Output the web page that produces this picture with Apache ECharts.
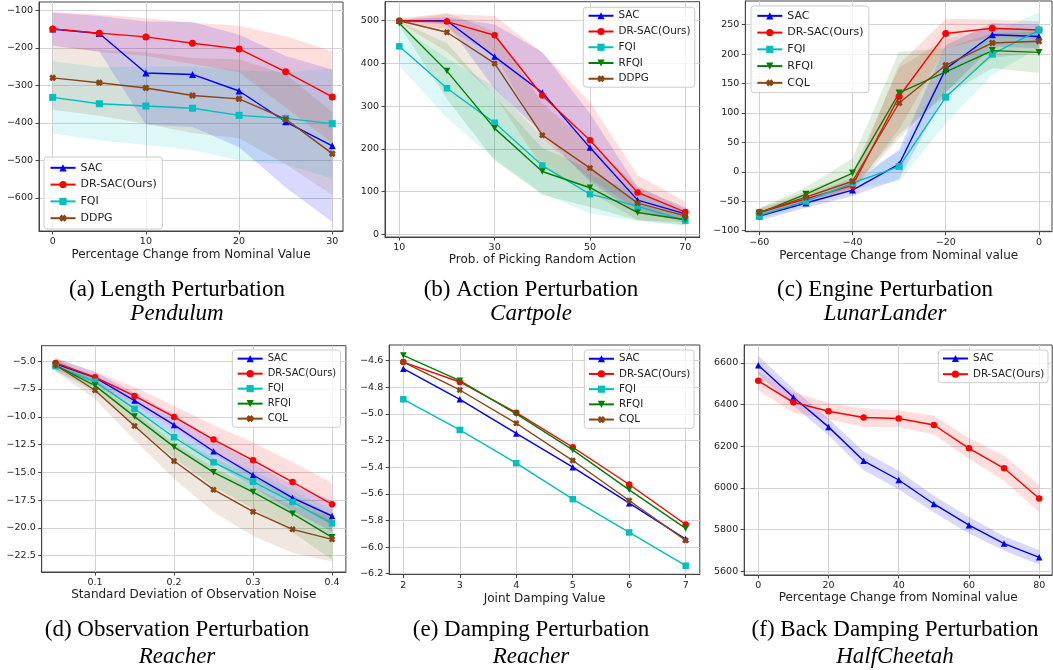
<!DOCTYPE html>
<html><head><meta charset="utf-8">
<script src="https://cdn.jsdelivr.net/npm/echarts@6/dist/echarts.min.js"></script>
<style>html,body{margin:0;padding:0;background:#fff}#c{width:1053px;height:670px}</style>
</head><body><div id="c"></div>
<script>
// ---------- (a) Length Perturbation, Pendulum ----------
const aX = [0, 5, 10, 15, 20, 25, 30];
const aSAC = [-150, -162, -267, -271, -315, -397, -461];
const aSACstd = [44, 47, 137, 140, 150, 175, 203];
const aDR = [-150, -161, -171, -188, -203, -264, -331];
const aDRstd = [45, 50, 50, 55, 62, 95, 122];
const aFQI = [-332, -349, -355, -361, -380, -388, -402];
const aFQIstd = [96, 97, 104, 111, 120, 122, 146];
const aDDPG = [-280, -293, -307, -327, -336, -390, -482];
const aDDPGstd = [85, 88, 95, 100, 105, 120, 110];
const aXTicks = [0, 10, 20, 30];
const aYTicks = [-600, -500, -400, -300, -200, -100];

// ---------- (b) Action Perturbation, Cartpole ----------
const bX = [10, 20, 30, 40, 50, 60, 70];
const bSAC = [500, 500, 416, 332, 203, 80, 48];
const bSACstd = [3, 8, 75, 95, 80, 30, 15];
const bDR = [500, 498, 466, 325, 220, 98, 52];
const bDRstd = [3, 18, 45, 100, 90, 40, 25];
const bFQI = [440, 342, 261, 161, 94, 66, 32];
const bFQIstd = [45, 70, 85, 65, 45, 35, 12];
const bRFQI = [494, 382, 248, 147, 109, 51, 34];
const bRFQIstd = [5, 65, 75, 55, 45, 18, 12];
const bDDPG = [500, 473, 400, 232, 155, 73, 43];
const bDDPGstd = [5, 45, 75, 75, 55, 40, 15];
const bXTicks = [10, 30, 50, 70];
const bYTicks = [0, 100, 200, 300, 400, 500];

// ---------- (c) Engine Perturbation, LunarLander ----------
const cX = [-60, -50, -40, -30, -20, -10, 0];
const cSAC = [-75, -53, -31, 13, 175, 233, 230];
const cSACstd = [8, 8, 10, 25, 40, 20, 20];
const cDR = [-69, -46, -23, 128, 235, 244, 241];
const cDRstd = [6, 8, 10, 55, 25, 15, 15];
const cFQI = [-74, -50, -19, 9, 127, 200, 241];
const cFQIstd = [6, 7, 10, 25, 45, 35, 30];
const cRFQI = [-70, -38, -2, 134, 170, 206, 203];
const cRFQIstd = [8, 12, 25, 70, 40, 30, 35];
const cCQL = [-69, -43, -16, 117, 181, 219, 222];
const cCQLstd = [7, 10, 15, 60, 45, 25, 20];
const cXTicks = [-60, -40, -20, 0];
const cYTicks = [-100, -50, 0, 50, 100, 150, 200, 250];

// ---------- (d) Observation Perturbation, Reacher ----------
const dX = [0.05, 0.1, 0.15, 0.2, 0.25, 0.3, 0.35, 0.4];
const dSAC = [-5.24, -6.47, -8.54, -10.73, -13.1, -15.24, -17.3, -18.93];
const dSACstd = [0.5, 0.5, 0.7, 0.9, 1.0, 1.1, 1.2, 1.4];
const dDR = [-5.15, -6.44, -8.12, -10.01, -12.05, -13.92, -15.87, -17.88];
const dDRstd = [0.4, 0.5, 0.8, 1.0, 1.3, 1.6, 1.8, 1.9];
const dFQI = [-5.45, -6.83, -9.29, -11.84, -14.1, -15.84, -17.67, -19.59];
const dFQIstd = [0.5, 0.5, 0.7, 0.8, 0.9, 1.0, 1.1, 1.2];
const dRFQI = [-5.36, -7.19, -9.98, -12.71, -15.0, -16.77, -18.72, -20.85];
const dRFQIstd = [0.5, 0.6, 0.8, 1.0, 1.3, 1.5, 1.7, 2.0];
const dCQL = [-5.33, -7.61, -10.82, -13.98, -16.56, -18.54, -20.13, -21.03];
const dCQLstd = [0.6, 0.8, 1.3, 1.6, 2.0, 2.2, 2.1, 2.0];
const dXTicks = [0.1, 0.2, 0.3, 0.4];
const dYTicks = [-22.5, -20, -17.5, -15, -12.5, -10, -7.5, -5];

// ---------- (e) Damping Perturbation, Reacher ----------
const eX = [2, 3, 4, 5, 6, 7];
const eSAC = [-4.66, -4.89, -5.146, -5.40, -5.67, -5.94];
const eDR = [-4.61, -4.76, -4.99, -5.25, -5.53, -5.83];
const eFQI = [-4.89, -5.12, -5.37, -5.64, -5.89, -6.14];
const eRFQI = [-4.56, -4.75, -5.0, -5.27, -5.57, -5.86];
const eCQL = [-4.61, -4.82, -5.07, -5.35, -5.65, -5.95];
const eXTicks = [2, 3, 4, 5, 6, 7];
const eYTicks = [-6.2, -6.0, -5.8, -5.6, -5.4, -5.2, -5.0, -4.8, -4.6];

// ---------- (f) Back Damping Perturbation, HalfCheetah ----------
const fX = [0, 10, 20, 30, 40, 50, 60, 70, 80];
const fSAC = [6589, 6435, 6293, 6130, 6038, 5923, 5821, 5733, 5667];
const fSACstd = [45, 40, 40, 45, 45, 40, 40, 35, 35];
const fDR = [6514, 6411, 6368, 6338, 6333, 6302, 6190, 6094, 5949];
const fDRstd = [45, 50, 40, 45, 40, 45, 50, 60, 65];
const fXTicks = [0, 20, 40, 60, 80];
const fYTicks = [5600, 5800, 6000, 6200, 6400, 6600];

// ---------- captions ----------
const captions = [
  ['(a) Length Perturbation', 'Pendulum'],
  ['(b) Action Perturbation', 'Cartpole'],
  ['(c) Engine Perturbation', 'LunarLander'],
  ['(d) Observation Perturbation', 'Reacher'],
  ['(e) Damping Perturbation', 'Reacher'],
  ['(f) Back Damping Perturbation', 'HalfCheetah']
];

// ---------- styles ----------
const FONT = 'DejaVu Sans';
const XPATH = 'path://M3,0L5,2L7,0L10,3L8,5L10,7L7,10L5,8L3,10L0,7L2,5L0,3Z';
const STY = {
  'SAC': { color: '#0000ff', band: 'rgba(0,0,255,0.15)', symbol: 'triangle' },
  'DR-SAC(Ours)': { color: '#ff0000', band: 'rgba(255,0,0,0.13)', symbol: 'circle' },
  'FQI': { color: '#00bfbf', band: 'rgba(0,191,191,0.13)', symbol: 'rect' },
  'RFQI': { color: '#008000', band: 'rgba(0,128,0,0.13)', symbol: 'path://M0,0L10,0L5,9Z' },
  'DDPG': { color: '#8b4513', band: 'rgba(139,69,19,0.13)', symbol: XPATH },
  'CQL': { color: '#8b4513', band: 'rgba(139,69,19,0.13)', symbol: XPATH }
};
const fmt = d => v => (d == null ? String(v) : v.toFixed(d)).replace('-', '\u2212');

const panels = [
  { key: 'a', x: aX, grid: { left: 39, top: 2, width: 304, height: 229 }, xr: [-1.47, 31.15], yr: [-688, -78],
    xTicks: aXTicks, yTicks: aYTicks, xF: fmt(null), yF: fmt(null), xName: 'Percentage Change from Nominal Value', nameGap: 18,
    series: [['SAC', aSAC, aSACstd], ['DR-SAC(Ours)', aDR, aDRstd], ['FQI', aFQI, aFQIstd], ['DDPG', aDDPG, aDDPGstd]],
    legend: { left: 44, top: 157, fontSize: 11, lineHeight: 12, itemGap: 4.8, padding: [4.8, 5.5] }, sym: 7 },
  { key: 'b', x: bX, grid: { left: 385, top: 1.7, width: 314.6, height: 235.3 }, xr: [7, 73], yr: [-6.3, 544.5],
    xTicks: bXTicks, yTicks: bYTicks, xF: fmt(null), yF: fmt(null), xName: 'Prob. of Picking Random Action', nameGap: 16,
    series: [['SAC', bSAC, bSACstd], ['DR-SAC(Ours)', bDR, bDRstd], ['FQI', bFQI, bFQIstd], ['RFQI', bRFQI, bRFQIstd], ['DDPG', bDDPG, bDDPGstd]],
    legend: { left: 583.3, top: 7.3, fontSize: 10.4, lineHeight: 11.5, itemGap: 4.25, padding: [2.7, 4.2] }, sym: 6.5 },
  { key: 'c', x: cX, grid: { left: 745.3, top: 1, width: 306.7, height: 230.7 }, xr: [-63, 2.8], yr: [-101.7, 290.3],
    xTicks: cXTicks, yTicks: cYTicks, xF: fmt(null), yF: fmt(null), xName: 'Percentage Change from Nominal value', nameGap: 18,
    series: [['SAC', cSAC, cSACstd], ['DR-SAC(Ours)', cDR, cDRstd], ['FQI', cFQI, cFQIstd], ['RFQI', cRFQI, cRFQIstd], ['CQL', cCQL, cCQLstd]],
    legend: { left: 751, top: 6, fontSize: 11, lineHeight: 12, itemGap: 4.75, padding: [3.85, 5.3] }, sym: 7 },
  { key: 'd', x: dX, grid: { left: 41.7, top: 345.7, width: 304.2, height: 226.3 }, xr: [0.0325, 0.4175], yr: [-23.97, -3.6],
    xTicks: dXTicks, yTicks: dYTicks, xF: fmt(1), yF: fmt(1), xName: 'Standard Deviation of Observation Noise', nameGap: 17,
    series: [['SAC', dSAC, dSACstd], ['DR-SAC(Ours)', dDR, dDRstd], ['FQI', dFQI, dFQIstd], ['RFQI', dRFQI, dRFQIstd], ['CQL', dCQL, dCQLstd]],
    legend: { left: 232.3, top: 350, fontSize: 9.9, lineHeight: 11, itemGap: 4, padding: [3.15, 4.35] }, sym: 6.5 },
  { key: 'e', x: eX, grid: { left: 389.2, top: 345, width: 310.6, height: 229.5 }, xr: [1.75, 7.25], yr: [-6.206, -4.482],
    xTicks: eXTicks, yTicks: eYTicks, xF: fmt(null), yF: fmt(1), xName: 'Joint Damping Value', nameGap: 18,
    series: [['SAC', eSAC], ['DR-SAC(Ours)', eDR], ['FQI', eFQI], ['RFQI', eRFQI], ['CQL', eCQL]],
    legend: { left: 584.3, top: 350, fontSize: 10.3, lineHeight: 11.3, itemGap: 3.9, padding: [3.1, 3.65] }, sym: 6.5 },
  { key: 'f', x: fX, grid: { left: 744.2, top: 345, width: 308, height: 230 }, xr: [-4, 83.7], yr: [5582, 6686],
    xTicks: fXTicks, yTicks: fYTicks, xF: fmt(null), yF: fmt(null), xName: 'Percentage Change from Nominal value', nameGap: 17,
    series: [['SAC', fSAC, fSACstd], ['DR-SAC(Ours)', fDR, fDRstd]],
    legend: { left: 938.3, top: 350, fontSize: 10.3, lineHeight: 11.3, itemGap: 4.4, padding: [2.85, 3.65] }, sym: 6.5 }
];

const capPos = [
  { x: 177, y1: 290, y2: 314 }, { x: 531, y1: 290, y2: 314 }, { x: 885, y1: 290, y2: 314 },
  { x: 177, y1: 630, y2: 657 }, { x: 531, y1: 630, y2: 657 }, { x: 895, y1: 630, y2: 657 }
];

const grids = [], xAxes = [], yAxes = [], legends = [], series = [];
const axisCommon = (ticks, f) => ({
  axisLine: { show: true, onZero: false, lineStyle: { color: '#444', width: 1 } },
  axisTick: { show: true, customValues: ticks, length: 3.5, lineStyle: { color: '#444', width: 1 } },
  axisLabel: { customValues: ticks, formatter: f, fontSize: 9.5, color: '#222', fontFamily: FONT, margin: 6 },
  splitLine: { show: true, lineStyle: { color: '#d3d3d3', width: 1 } }
});

panels.forEach((p, gi) => {
  grids.push(Object.assign({ show: true, borderColor: '#444', borderWidth: 1, containLabel: false }, p.grid));
  xAxes.push(Object.assign({ type: 'value', gridIndex: gi, min: p.xr[0], max: p.xr[1],
    name: p.xName, nameLocation: 'middle', nameGap: p.nameGap,
    nameTextStyle: { fontSize: 12, fontFamily: FONT, color: '#222' } }, axisCommon(p.xTicks, p.xF)));
  yAxes.push(Object.assign({ type: 'value', gridIndex: gi, min: p.yr[0], max: p.yr[1] }, axisCommon(p.yTicks, p.yF)));

  // shaded std bands (polygon through the axis scales)
  p.series.forEach(([name, y, std]) => {
    if (!std) return;
    const st = STY[name];
    series.push({ type: 'custom', name: 'band_' + p.key + '_' + name, xAxisIndex: gi, yAxisIndex: gi,
      silent: true, z: 1, clip: true,
      data: p.x.map((v, i) => [v, y[i] - std[i], y[i] + std[i]]),
      encode: { x: 0, y: [1, 2] },
      renderItem: (params, api) => {
        if (params.dataIndex !== 0) return null;
        const up = [], lo = [];
        for (let i = 0; i < p.x.length; i++) {
          up.push(api.coord([p.x[i], y[i] + std[i]]));
          lo.push(api.coord([p.x[i], y[i] - std[i]]));
        }
        return { type: 'polygon', shape: { points: up.concat(lo.reverse()) }, style: { fill: st.band } };
      }
    });
  });
  // mean lines
  p.series.forEach(([name, y]) => {
    const st = STY[name];
    series.push({ type: 'line', name, xAxisIndex: gi, yAxisIndex: gi,
      data: p.x.map((v, i) => [v, y[i]]), symbol: st.symbol, symbolSize: p.sym, showAllSymbol: true,
      lineStyle: { color: st.color, width: 1.4 }, itemStyle: { color: st.color, borderWidth: 0 }, z: 3 });
  });
  legends.push({
    orient: 'vertical', align: 'left', left: p.legend.left, top: p.legend.top,
    data: p.series.map(s => s[0]), itemWidth: 25, itemHeight: 9, itemGap: p.legend.itemGap,
    padding: p.legend.padding, backgroundColor: 'rgba(255,255,255,0.8)', borderColor: '#cccccc',
    borderWidth: 1, borderRadius: 3, selectedMode: false, z: 10,
    textStyle: { fontSize: p.legend.fontSize, lineHeight: p.legend.lineHeight, fontFamily: FONT, color: '#222' }
  });
});

const graphics = [];
captions.forEach((c, i) => {
  const cp = capPos[i];
  graphics.push({ type: 'text', x: cp.x, y: cp.y1, style: { text: c[0], fill: '#000',
    font: '23px "Liberation Serif"', align: 'center', verticalAlign: 'middle', textAlign: 'center', textVerticalAlign: 'middle' } });
  graphics.push({ type: 'text', x: cp.x, y: cp.y2, style: { text: c[1], fill: '#000',
    font: 'italic 23px "Liberation Serif"', align: 'center', verticalAlign: 'middle', textAlign: 'center', textVerticalAlign: 'middle' } });
});

const chart = echarts.init(document.getElementById('c'), null, { renderer: 'canvas' });
chart.setOption({
  animation: false,
  backgroundColor: '#fff',
  grid: grids, xAxis: xAxes, yAxis: yAxes, legend: legends, series, graphic: graphics
});
</script></body></html>
